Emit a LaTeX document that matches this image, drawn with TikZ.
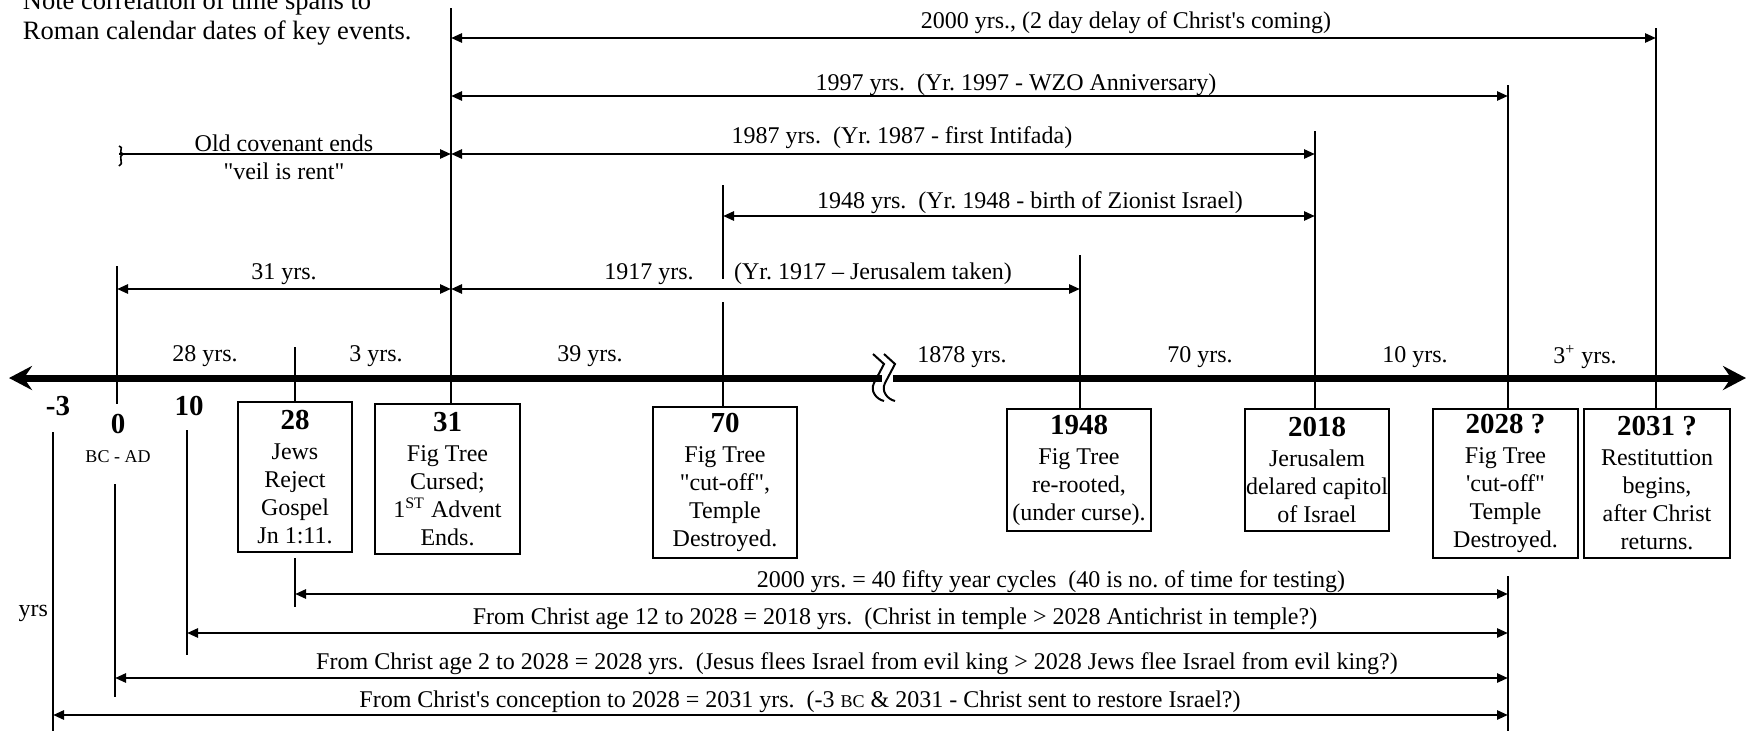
\documentclass[tikz,border=0pt]{standalone}
\usepackage{fontspec}
\setmainfont{Liberation Serif}[Ligatures=TeXOff]
\usetikzlibrary{arrows.meta, positioning}
\newcommand{\yrfont}{\fontsize{14.5}{16}\selectfont\bfseries}
\newcommand{\smallbc}{{\fontsize{9}{9}\selectfont BC}}
\frenchspacing

\begin{document}
\begin{tikzpicture}[
    x=0.5pt, y=-0.5pt,
    font=\fontsize{12}{14}\selectfont,
    line width=1pt,
    event/.style={rectangle, draw, line width=1pt, align=center, inner sep=0pt, anchor=north, minimum width=72pt, minimum height=#1},
    lbl/.style={inner sep=0pt},
    yearlbl/.style={inner sep=0pt, font=\yrfont},
    spanarrow/.style={{Triangle[length=5.5pt,width=4.5pt]}-{Triangle[length=5.5pt,width=4.5pt]}, line width=1.3pt},
    spanright/.style={-{Triangle[length=5.5pt,width=4.5pt]}, line width=1.3pt},
    timeline/.style={line width=3.5pt},
]
    \useasboundingbox (0,0) rectangle (1746,730);

    % Note (runs off the top edge)
    \node[lbl, anchor=south west, align=left, font=\fontsize{13.25}{14.7}\selectfont] (note) at (22,46)
        {Note correlation of time spans to\\Roman calendar dates of key events.};

    % Rows of the span arrows
    \coordinate (r2000) at (0,38);
    \coordinate (r1997) at (0,96);
    \coordinate (r1987) at (0,154);
    \coordinate (r1948) at (0,216);
    \coordinate (r1917) at (0,289);
    \coordinate (rc50) at (0,594);
    \coordinate (rc12) at (0,633);
    \coordinate (rc2) at (0,678);
    \coordinate (rc0) at (0,715);
    \coordinate (bottom) at (0,736);

    % Tops of the year lines
    \coordinate (t0) at (117,266);
    \coordinate (t0end) at (117,404);
    \coordinate (t28) at (295,347);
    \coordinate (t31) at (451,8);
    \coordinate (t70) at (723,185);
    \coordinate (g70a) at (723,279);
    \coordinate (g70b) at (723,302);
    \coordinate (t1948) at (1080,255);
    \coordinate (t2018) at (1315,131);
    \coordinate (t2028) at (1508,85);
    \coordinate (t2031) at (1656,28);

    % Lower year lines
    \coordinate (lm3) at (53,432);
    \coordinate (l0) at (115,484);
    \coordinate (l0end) at (115,697);
    \coordinate (l10) at (187,430);
    \coordinate (l10end) at (187,655);
    \coordinate (l28) at (295,558);
    \coordinate (l28end) at (295,607);
    \coordinate (l2028) at (1508,576);

    % Time line with break
    \coordinate (axl) at (9,378);
    \coordinate (brkl) at (882,378);
    \coordinate (brkr) at (893,378);
    \coordinate (axr) at (1746,378);
    \draw[timeline, {Stealth[length=11.5pt,width=12pt,inset=4pt]}-] (axl) -- (brkl);
    \draw[timeline, -{Stealth[length=11.5pt,width=12pt,inset=4pt]}] (brkr) -- (axr);
    \foreach \dx in {0,11}
        \draw[line width=1pt, xshift=\dx*0.5pt] (873,354) -- (884,364) -- (874,383)
            .. controls (870,391) and (876,399) .. (884,401);

    % Event boxes
    \node[event=75pt, minimum width=57pt] (b28) at (295,401) {{\yrfont 28}\\[1pt]Jews\\Reject\\Gospel\\Jn 1:11.};
    \node[event=75pt, minimum width=72.5pt] (b31) at (447.5,403) {{\yrfont 31}\\[1pt]Fig Tree\\Cursed;\\1\textsuperscript{ST} Advent\\Ends.};
    \node[event=75.5pt] (b70) at (725,406) {{\yrfont 70}\\[1pt]Fig Tree\\"cut-off",\\Temple\\Destroyed.};
    \node[event=61pt] (b1948) at (1079,408) {{\yrfont 1948}\\[1pt]Fig Tree\\re-rooted,\\(under curse).};
    \node[event=61pt] (b2018) at (1317,408) {{\yrfont 2018}\\[1pt]Jerusalem\\delared capitol\\of Israel};
    \node[event=74.5pt, minimum width=72.5pt] (b2028) at (1505.5,408) {{\yrfont 2028 ?}\\[1pt]Fig Tree\\'cut-off"\\Temple\\Destroyed.};
    \node[event=74.5pt, minimum width=73pt] (b2031) at (1657,408) {{\yrfont 2031 ?}\\[1pt]Restituttion\\begins,\\after Christ\\returns.};

    % Year labels left of the boxes
    \node[yearlbl] (ym3) at (58,406) {-3};
    \node[yearlbl] (y0) at (118,424) {0};
    \node[yearlbl] (y10) at (189,406) {10};
    \node[lbl, font=\fontsize{9}{9}\selectfont] (bcad) at (118,457) {BC - AD};

    % Year lines
    \draw (t0) -- (t0end);
    \draw (t28) -- (t28 |- b28.north);
    \draw (t31) -- (t31 |- b31.north);
    \draw (t70) -- (g70a);
    \draw (g70b) -- (g70b |- b70.north);
    \draw (t1948) -- (t1948 |- b1948.north);
    \draw (t2018) -- (t2018 |- b2018.north);
    \draw (t2028) -- (t2028 |- b2028.north);
    \draw (t2031) -- (t2031 |- b2031.north);

    % Lower year lines
    \draw (lm3) -- (lm3 |- bottom);
    \draw (l0) -- (l0end);
    \draw (l10) -- (l10end);
    \draw (l28) -- (l28end);
    \draw (l2028) -- (l2028 |- bottom);

    % Upper spans
    \draw[spanarrow] (t31 |- r2000) -- (t2031 |- r2000);
    \draw[spanarrow] (t31 |- r1997) -- (t2028 |- r1997);
    \draw[spanarrow] (t31 |- r1987) -- (t2018 |- r1987);
    \draw[spanarrow] (t70 |- r1948) -- (t2018 |- r1948);
    \draw[spanarrow] (t0 |- r1917) -- (t31 |- r1917);
    \draw[spanarrow] (t31 |- r1917) -- (t1948 |- r1917);

    % Old covenant
    \coordinate (cov) at (119,154);
    \draw[spanright] (cov) -- (t31 |- r1987);
    \draw[line width=0.8pt] (119,146) .. controls (125,147) and (117,153) .. (123,154)
        .. controls (117,156) and (125,164) .. (119,166);

    % Lower spans
    \draw[spanarrow] (l28 |- rc50) -- (l2028 |- rc50);
    \draw[spanarrow] (l10 |- rc12) -- (l2028 |- rc12);
    \draw[spanarrow] (l0 |- rc2) -- (l2028 |- rc2);
    \draw[spanarrow] (lm3 |- rc0) -- (l2028 |- rc0);

    % Span labels
    \node[lbl] (L2000) at (1126,23) {2000 yrs., (2 day delay of Christ's coming)};
    \node[lbl] (L1997) at (1016,85) {1997 yrs.~ (Yr. 1997 - WZO Anniversary)};
    \node[lbl, align=center] (Lold) at (284,157) {Old covenant ends\\"veil is rent"};
    \node[lbl] (L1987) at (902,138) {1987 yrs.~ (Yr. 1987 - first Intifada)};
    \node[lbl] (L1948) at (1030,203) {1948 yrs.~ (Yr. 1948 - birth of Zionist Israel)};
    \node[lbl] (L31) at (284,274) {31 yrs.};
    \node[lbl] (L1917) at (649,274) {1917 yrs.};
    \node[lbl] (L1917b) at (873,274) {(Yr. 1917 – Jerusalem taken)};

    % Interval labels on the time line
    \node[lbl] (i28) at (205,356) {28 yrs.};
    \node[lbl] (i3) at (376,356) {3 yrs.};
    \node[lbl] (i39) at (590,356) {39 yrs.};
    \node[lbl] (i1878) at (962,357) {1878 yrs.};
    \node[lbl] (i70) at (1200,357) {70 yrs.};
    \node[lbl] (i10) at (1415,357) {10 yrs.};
    \node[lbl] (i3p) at (1585,357) {3\textsuperscript{+} yrs.};

    % Lower labels
    \node[lbl] (Lc50) at (1051,582) {2000 yrs. = 40 fifty year cycles~ (40 is no. of time for testing)};
    \node[lbl] (Lc12) at (895,619) {From Christ age 12 to 2028 = 2018 yrs.~ (Christ in temple > 2028 Antichrist in temple?)};
    \node[lbl] (Lc2) at (857,664) {From Christ age 2 to 2028 = 2028 yrs.~ (Jesus flees Israel from evil king > 2028 Jews flee Israel from evil king?)};
    \node[lbl] (Lc0) at (800,702) {From Christ's conception to 2028 = 2031 yrs.~ (-3 \smallbc{} \& 2031 - Christ sent to restore Israel?)};
    \node[lbl, anchor=east] (Lyrs) at (49,613) {yrs};
\end{tikzpicture}
\end{document}
